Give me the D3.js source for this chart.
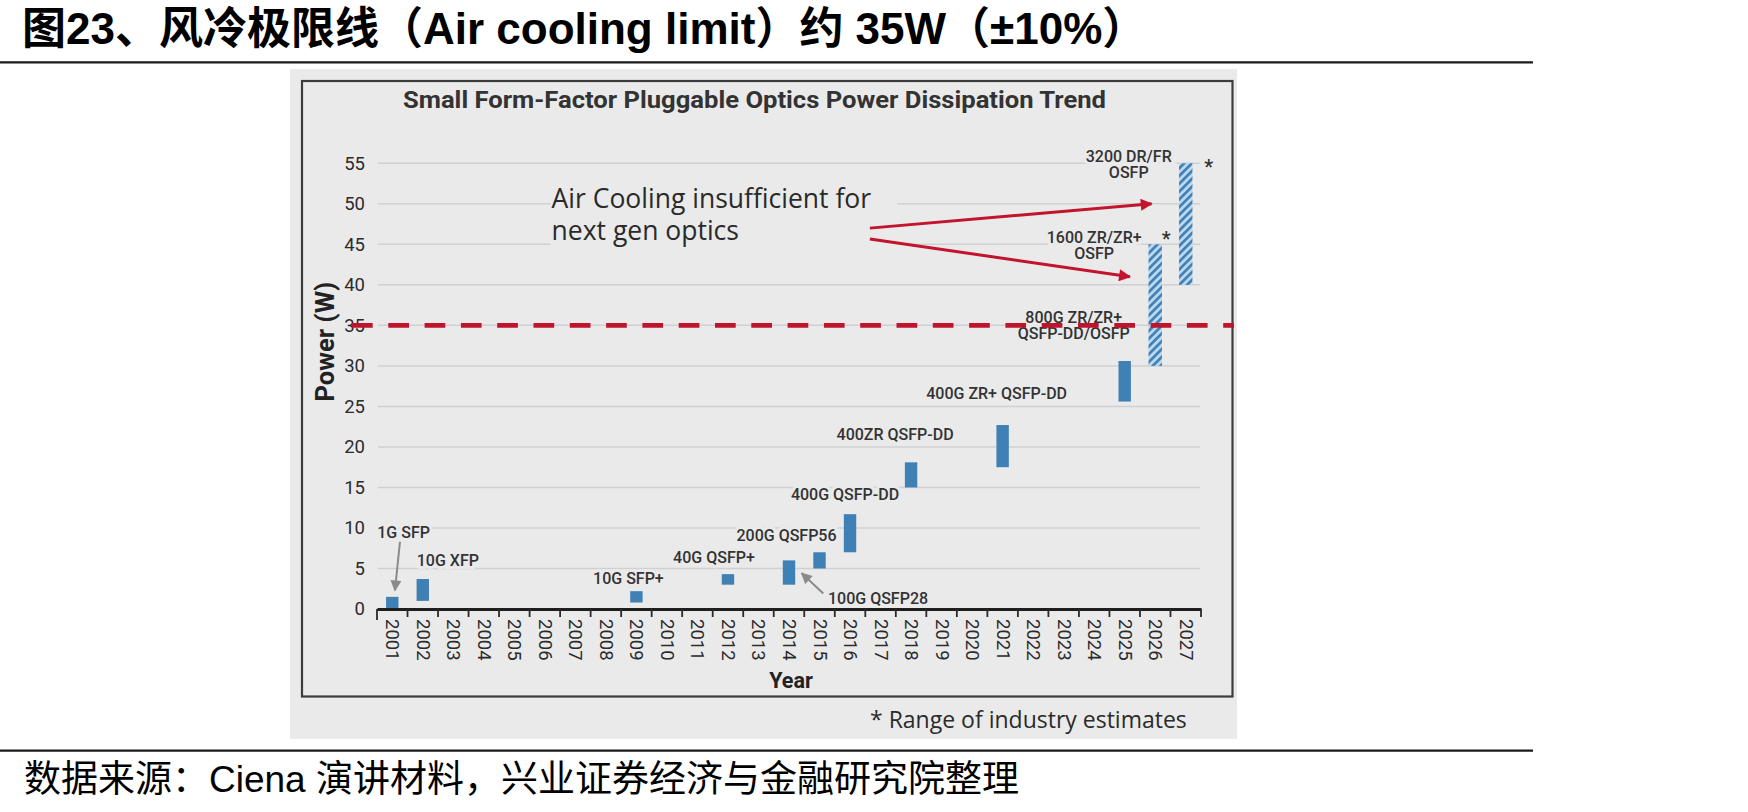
<!DOCTYPE html>
<html lang="zh">
<head>
<meta charset="UTF-8">
<title>风冷极限线</title>
<script src="https://cdn.jsdelivr.net/npm/d3@7"></script>
<style>
    body { margin: 0; background: #fff; }
    svg { display: block; }
    .header { font-family: "Liberation Sans", "Noto Sans CJK SC", sans-serif; font-weight: bold; font-size: 44px; fill: #000; }
    .footer { font-family: "Liberation Sans", "Noto Sans CJK SC", sans-serif; font-size: 37px; fill: #000; }
    .ctitle { font-family: Roboto, sans-serif; font-weight: bold; font-size: 24px; fill: #333; }
    .tick text { font-family: Roboto, sans-serif; fill: #2b2b2b; }
    .lbl { font-family: Roboto, sans-serif; font-weight: 500; font-size: 16px; fill: #333; }
    .note { font-family: "Open Sans", sans-serif; fill: #2a2a2a; }
    .axtitle { font-family: Roboto, sans-serif; font-weight: bold; fill: #222; }
</style>
</head>
<body>
<svg id="chart" width="1748" height="812"></svg>
<script>
// ---- data ----
var years = ["2001","2002","2003","2004","2005","2006","2007","2008","2009","2010","2011","2012","2013","2014",
             "2015","2016","2017","2018","2019","2020","2021","2022","2023","2024","2025","2026","2027"];
var yTicks = [0, 5, 10, 15, 20, 25, 30, 35, 40, 45, 50, 55];

var products = ["1G SFP", "10G XFP", "10G SFP+", "40G QSFP+", "100G QSFP28", "200G QSFP56", "400G QSFP-DD",
                "400ZR QSFP-DD", "400G ZR+ QSFP-DD", "800G ZR/ZR+\nQSFP-DD/OSFP", "1600 ZR/ZR+\nOSFP", "3200 DR/FR\nOSFP"];
var productYears = ["2001","2002","2009","2012","2014","2015","2016","2018","2021","2025","2026","2027"];
var powerLow  = [0,   1,   0.8, 3,   3, 5, 7,    15,   17.5, 25.6, 30, 40];
var powerHigh = [1.5, 3.7, 2.2, 4.3, 6, 7, 11.7, 18.1, 22.7, 30.6, 45, 55];
var isEstimate = [false, false, false, false, false, false, false, false, false, false, true, true];

var airCoolingLimit = 35;

// label placement: baseline in W, horizontal offset from bar centre in px
var labelPos = [
    { v: 8.8,  dx: -15, anchor: "start" },
    { v: 5.3,  dx: -6,  anchor: "start" },
    { v: 3.1,  dx: -8,  anchor: "middle" },
    { v: 5.7,  dx: -14, anchor: "middle" },
    { v: 0.6,  dx: 39,  anchor: "start" },
    { v: 8.4,  dx: -33, anchor: "middle" },
    { v: 13.45, dx: -5, anchor: "middle" },
    { v: 20.8, dx: -16, anchor: "middle" },
    { v: 25.9, dx: -6,  anchor: "middle" },
    { v: 35.3, dx: -51, anchor: "middle" },
    { v: 45.2, dx: -61, anchor: "middle", star: { dx: 11, v: 45.9 } },
    { v: 55.2, dx: -57, anchor: "middle", star: { dx: 23, v: 54.8 } }
];

// small grey pointers (bar index, from/to as [dx, W])
var pointers = [
    { i: 0, from: [7.7, 8.3], to: [2.7, 2.3] },
    { i: 4, from: [34.3, 1.9], to: [12.7, 4.4] }
];

// red call-out arrows: [year, fraction of band, W]
var calloutText = ["Air Cooling insufficient for", "next gen optics"];
var calloutAt = ["2006", 0.72, 49.44];
var calloutArrows = [
    { from: ["2017", 0.15, 47.0], to: ["2026", 0.38, 50.0] },
    { from: ["2017", 0.15, 45.66], to: ["2025", 0.67, 41.0] }
];

// ---- drawing ----
var svg = d3.select("#chart");

var x = d3.scaleBand().domain(years).range([377, 1201]).padding(0);
var y = d3.scaleLinear().domain([0, 55]).range([609, 163.3]);
var bw = x.bandwidth();
function cx(yr) { return x(yr) + bw / 2; }
function fx(p) { return x(p[0]) + p[1] * bw; }

// header & footer
svg.append("text").attr("class", "header").attr("x", 22).attr("y", 44)
    .text("图23、风冷极限线（Air cooling limit）约 35W（±10%）");
svg.append("line").attr("x1", 0).attr("x2", 1533).attr("y1", 62.3).attr("y2", 62.3)
    .attr("stroke", "#1a1a1a").attr("stroke-width", 2.2);
svg.append("line").attr("x1", 0).attr("x2", 1533).attr("y1", 750.7).attr("y2", 750.7)
    .attr("stroke", "#1a1a1a").attr("stroke-width", 2.2);
svg.append("text").attr("class", "footer").attr("x", 24).attr("y", 792)
    .text("数据来源：Ciena 演讲材料，兴业证券经济与金融研究院整理");

// chart panel
svg.append("rect").attr("x", 290).attr("y", 69).attr("width", 947).attr("height", 670).attr("fill", "#eaeaeb");
svg.append("rect").attr("x", 302).attr("y", 81).attr("width", 930.5).attr("height", 615.5)
    .attr("fill", "none").attr("stroke", "#3c3c3c").attr("stroke-width", 2.2);

svg.append("text").attr("class", "ctitle").attr("x", 754.5).attr("y", 108.3).attr("text-anchor", "middle")
    .attr("textLength", 703).attr("lengthAdjust", "spacingAndGlyphs")
    .text("Small Form-Factor Pluggable Optics Power Dissipation Trend");

var defs = svg.append("defs");
var hatch = defs.append("pattern").attr("id", "hatch").attr("patternUnits", "userSpaceOnUse")
    .attr("width", 5.5).attr("height", 5.5).attr("patternTransform", "rotate(45)");
hatch.append("rect").attr("width", 5.5).attr("height", 5.5).attr("fill", "#b8d9f1");
hatch.append("rect").attr("width", 2.6).attr("height", 5.5).attr("fill", "#3f7db2");

function marker(id, color, w, h) {
    defs.append("marker").attr("id", id).attr("viewBox", "0 0 10 10")
        .attr("refX", 9).attr("refY", 5).attr("markerUnits", "userSpaceOnUse")
        .attr("markerWidth", w).attr("markerHeight", h).attr("orient", "auto")
        .append("path").attr("d", "M0,0L10,5L0,10z").attr("fill", color);
}
marker("redhead", "#c2142d", 15, 12);
marker("greyhead", "#8b8b8b", 13, 11);

// gridlines
svg.append("g").selectAll("line").data(yTicks.filter(function(d) { return d > 0; }))
    .enter().append("line")
    .attr("x1", 378).attr("x2", 1200)
    .attr("y1", function(d) { return y(d); }).attr("y2", function(d) { return y(d); })
    .attr("stroke", "#d0d0d1").attr("stroke-width", 1.5);

// call-out text with a panel-coloured box behind it
var callout = svg.append("g");
var cbox = callout.append("rect").attr("fill", "#eaeaeb");
var ctext = callout.append("text").attr("class", "note").style("font-size", "26.5px");
ctext.selectAll("tspan").data(calloutText).enter().append("tspan")
    .attr("x", fx(calloutAt))
    .attr("y", function(d, i) { return y(calloutAt[2]) + i * 31.7; })
    .text(function(d) { return d; });
var bb = ctext.node().getBBox();
cbox.attr("x", bb.x - 1).attr("y", bb.y).attr("width", bb.width + 27).attr("height", bb.height);

// bar labels (halo masks the gridlines)
var labels = svg.append("g");
products.forEach(function(name, i) {
    var p = labelPos[i];
    var t = labels.append("text").attr("class", "lbl")
        .attr("text-anchor", p.anchor)
        .attr("stroke", "#eaeaeb").attr("stroke-width", 6).attr("paint-order", "stroke");
    name.split("\n").forEach(function(line, k) {
        t.append("tspan").attr("x", cx(productYears[i]) + p.dx).attr("y", y(p.v) + k * 16.2).text(line);
    });
    if (p.star) {
        labels.append("text").attr("class", "lbl").style("font-size", "20px")
            .attr("x", cx(productYears[i]) + p.star.dx).attr("y", y(p.star.v) + 9)
            .attr("text-anchor", "middle").text("*");
    }
});

// bars
svg.append("g").selectAll("rect").data(products).enter().append("rect")
    .attr("x", function(d, i) { return cx(productYears[i]) - (isEstimate[i] ? 6.7 : 6.2); })
    .attr("width", function(d, i) { return isEstimate[i] ? 13.4 : 12.4; })
    .attr("y", function(d, i) { return y(powerHigh[i]); })
    .attr("height", function(d, i) { return y(powerLow[i]) - y(powerHigh[i]); })
    .attr("fill", function(d, i) { return isEstimate[i] ? "url(#hatch)" : "#3f80b5"; });

// axes
var xAxis = svg.append("g").attr("transform", "translate(0," + y(0) + ")")
    .call(d3.axisBottom(x).tickSize(0).tickSizeOuter(0));
xAxis.select(".domain").attr("stroke", "#1e1e1e").attr("stroke-width", 3);
xAxis.selectAll(".tick text")
    .attr("y", 0).attr("dy", null)
    .attr("transform", "translate(0,10) rotate(90)")
    .attr("text-anchor", "start").attr("dominant-baseline", "central")
    .style("font-size", "18.5px");
xAxis.selectAll("line.bound").data(years.concat(["end"])).enter().append("line")
    .attr("class", "bound")
    .attr("x1", function(d, i) { return x.range()[0] + i * bw; })
    .attr("x2", function(d, i) { return x.range()[0] + i * bw; })
    .attr("y1", 0).attr("y2", function(d, i) { return i === 0 ? 11 : 8; })
    .attr("stroke", "#2a2a2a").attr("stroke-width", 1.8);

var yAxis = svg.append("g").attr("transform", "translate(377,0)")
    .call(d3.axisLeft(y).tickValues(yTicks).tickSize(0).tickPadding(12));
yAxis.select(".domain").remove();
yAxis.selectAll(".tick text").style("font-size", "18.5px");

svg.append("text").attr("class", "axtitle").style("font-size", "25.5px")
    .attr("transform", "translate(325," + ((y(25) + y(40)) / 2 - 4) + ") rotate(-90)")
    .attr("text-anchor", "middle").attr("dominant-baseline", "central")
    .text("Power (W)");
svg.append("text").attr("class", "axtitle").style("font-size", "21.5px")
    .attr("x", (x.range()[0] + x.range()[1]) / 2 + 2).attr("y", 688.3)
    .attr("text-anchor", "middle").text("Year");

// air cooling limit
svg.append("line")
    .attr("x1", x.range()[0] - 25).attr("x2", x.range()[1] + 33)
    .attr("y1", y(airCoolingLimit)).attr("y2", y(airCoolingLimit))
    .attr("stroke", "#c0142c").attr("stroke-width", 4.6).attr("stroke-dasharray", "20.7 15.6");

// grey pointers
svg.append("g").selectAll("line").data(pointers).enter().append("line")
    .attr("x1", function(d) { return cx(productYears[d.i]) + d.from[0]; })
    .attr("y1", function(d) { return y(d.from[1]); })
    .attr("x2", function(d) { return cx(productYears[d.i]) + d.to[0]; })
    .attr("y2", function(d) { return y(d.to[1]); })
    .attr("stroke", "#8b8b8b").attr("stroke-width", 2).attr("marker-end", "url(#greyhead)");

// red arrows
svg.append("g").selectAll("line").data(calloutArrows).enter().append("line")
    .attr("x1", function(d) { return fx(d.from); }).attr("y1", function(d) { return y(d.from[2]); })
    .attr("x2", function(d) { return fx(d.to); }).attr("y2", function(d) { return y(d.to[2]); })
    .attr("stroke", "#c2142d").attr("stroke-width", 3).attr("marker-end", "url(#redhead)");

// footnote
svg.append("text").attr("class", "note").style("font-size", "23px")
    .attr("x", 870).attr("y", 728.3).text("*  Range of industry estimates");
</script>
</body>
</html>
